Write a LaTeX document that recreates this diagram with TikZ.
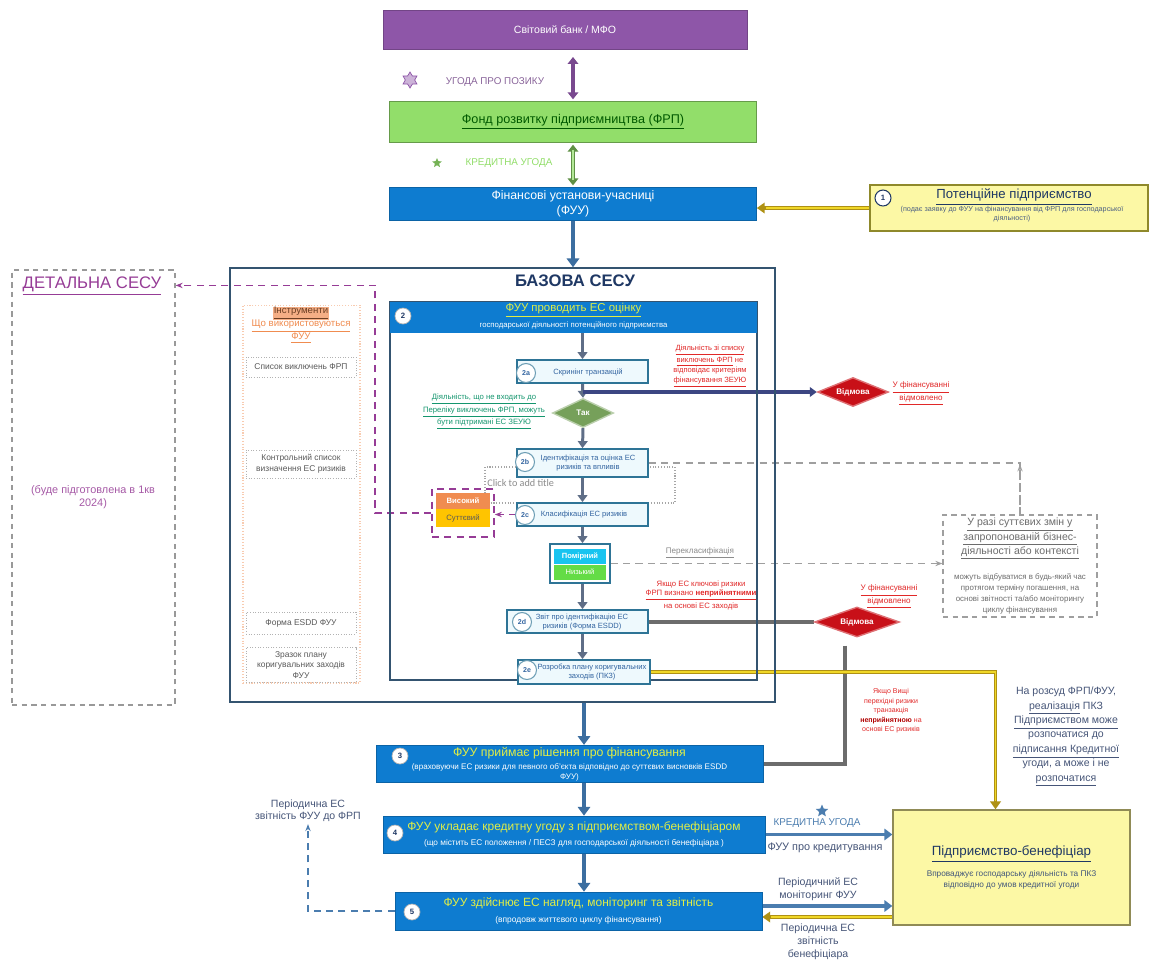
\documentclass[tikz,border=0pt]{standalone}
\usepackage{fontspec}
\setmainfont{Liberation Sans}
\newfontfamily\carlfont{Carlito}
\usetikzlibrary{shapes.geometric,arrows.meta,calc,backgrounds}
\newcommand{\myfs}[2]{\fontsize{#1}{#2}\selectfont}
\definecolor{cpurple}{RGB}{142,86,168}
\definecolor{cgreen}{RGB}{146,222,106}
\definecolor{cblue}{RGB}{14,124,208}
\definecolor{cnavy}{RGB}{31,56,100}
\definecolor{cframe}{RGB}{52,84,112}
\definecolor{cstepfill}{RGB}{238,249,253}
\definecolor{cstep}{RGB}{46,116,150}
\definecolor{cstxt}{RGB}{50,100,160}
\definecolor{cspine}{RGB}{95,110,135}
\definecolor{cred}{RGB}{200,16,24}
\definecolor{ctxtred}{RGB}{225,40,40}
\definecolor{cyel}{RGB}{252,248,165}
\definecolor{colive}{RGB}{175,145,20}
\definecolor{cgoldln}{RGB}{240,215,40}
\definecolor{corange}{RGB}{240,140,80}
\definecolor{cgold}{RGB}{255,196,0}
\definecolor{ccyan}{RGB}{24,196,240}
\definecolor{clgreen}{RGB}{100,220,70}
\definecolor{cdpurple}{RGB}{150,60,150}
\definecolor{csteel}{RGB}{75,125,175}
\definecolor{cfat}{RGB}{60,110,160}
\definecolor{ctitle}{RGB}{225,238,70}
\definecolor{cdgreen}{RGB}{118,160,90}
\definecolor{cgtxt}{RGB}{20,150,110}
\definecolor{cnavyarrow}{RGB}{60,70,130}
\definecolor{cslate}{RGB}{70,85,120}
\begin{document}
\begin{tikzpicture}[x=0.02cm,y=-0.02cm,
  every node/.style={inner sep=1pt},
  bluebox/.style={fill=cblue, draw=cblue!80!black, line width=0.4pt, text=white, align=center, inner sep=1pt},
  stepbox/.style={draw=cstep, fill=cstepfill, line width=1pt, inner sep=0pt},
  steptxt/.style={text=cstxt, font=\myfs{4.3}{5.2}, align=center, inner sep=0pt},
  numc/.style={circle, fill=white, draw=cstep!70, line width=0.6pt, inner sep=0pt, minimum size=0.38cm, text=cstxt, font=\myfs{4}{4}\bfseries},
  numw/.style={circle, fill=white, draw=gray!60, line width=0.4pt, inner sep=0pt, minimum size=0.32cm, text=cnavy, font=\myfs{4.4}{4.4}\bfseries},
  spine/.style={draw=cspine, line width=1.7pt, -{Triangle[length=4pt,width=5.5pt]}},
  fatblue/.style={draw=cfat, line width=2.4pt, -{Triangle[length=5pt,width=7pt]}},
  steelarr/.style={draw=csteel, line width=2.2pt, -{Triangle[length=4.5pt,width=6.5pt]}},
  goldarr/.style={draw=colive, line width=2pt, -{Triangle[length=4.5pt,width=6pt]}},
  goldin/.style={draw=cgoldln, line width=0.8pt},
  purpdash/.style={draw=cdpurple, dash pattern=on 4pt off 3pt, line width=0.9pt},
  graydash/.style={draw=gray!75, dash pattern=on 4pt off 3pt, line width=0.7pt},
  bluedash/.style={draw=csteel, dash pattern=on 4pt off 3pt, line width=0.8pt},
  instrbox/.style={draw=gray!60, densely dotted, line width=0.5pt, minimum width=2.2cm, align=center, text=gray!70!black, font=\myfs{4.8}{6}, inner sep=1pt},
  redtxt/.style={text=ctxtred, align=center},
  rejd/.style={diamond, aspect=2.4, fill=cred, draw=cred!60!white, line width=0.8pt, inner sep=0pt, text=white, font=\myfs{4.6}{5}\bfseries},
]
\useasboundingbox (0,0) rectangle (1154,968);
\begin{scope}[on background layer]
\fill[white] (0,0) rectangle (1154,968);
\end{scope}

% ---------- top chain ----------
\node[fill=cpurple, draw=cpurple!80!black, line width=0.5pt, minimum width=7.28cm, minimum height=0.78cm, text=white, font=\myfs{6}{7}] (wb) at (565,30) {Світовий банк / МФО};
\node[fill=cgreen, draw=cgreen!70!black, line width=0.5pt, minimum width=7.34cm, minimum height=0.82cm, text=green!35!black, font=\myfs{7.2}{8}] (frp) at (573,122) {\underline{Фонд розвитку підприємництва (ФРП)}};
\node[bluebox, minimum width=7.34cm, minimum height=0.66cm, font=\myfs{7}{8.5}] (fuu) at (573,204) {Фінансові установи-учасниці\\(ФУУ)};

\node[star, star points=6, star point ratio=1.7, draw=cpurple, fill=cpurple!45, line width=0.4pt, minimum size=0.32cm, inner sep=0pt] (st1) at (410,80) {};
\node[text=cpurple!65!gray, font=\myfs{5.6}{6}] (ugt) at (495,82) {УГОДА ПРО ПОЗИКУ};
\node[star, star points=5, star point ratio=2.2, fill=cgreen!80!black, minimum size=0.2cm, inner sep=0pt] (st2) at (437,163) {};
\node[text=cgreen, font=\myfs{5.6}{6}] (kut) at (509,163) {КРЕДИТНА УГОДА};

% potential enterprise
\node[fill=cyel, draw=olive!70!gray, line width=0.8pt, minimum width=5.56cm, minimum height=0.92cm] (pot) at (1009,208) {};
\node[numw, draw=cnavy, line width=0.6pt] (potn) at (883,198) {1};
\node[text=cnavy, font=\myfs{7.5}{8}] (pott) at (1014,197) {\underline{Потенційне підприємство}};
\node[text=cnavy!80, font=\myfs{4.1}{5}, align=center] (pots) at (1012,214) {(подає заявку до ФУУ на фінансування від ФРП для господарської\\діяльності)};

% ---------- detailed ----------
\node[draw=gray!80, dash pattern=on 3pt off 2.5pt, line width=0.7pt, minimum width=3.26cm, minimum height=8.7cm] (det) at (93.5,487.5) {};
\node[text=cdpurple, font=\myfs{9.5}{11}] (dett) at (92,286) {\underline{ДЕТАЛЬНА СЕСУ}};
\node[text=cdpurple!85, font=\myfs{6.2}{7.5}, align=center] (detn) at (93,497) {(буде підготовлена в 1кв\\2024)};

% ---------- base frame ----------
\node[draw=cframe, line width=0.9pt, minimum width=10.9cm, minimum height=8.68cm] (base) at (502.5,485) {};
\node[font=\myfs{9.5}{11}\bfseries, text=cnavy] (baset) at (575,281) {БАЗОВА СЕСУ};

% instruments column
\node[draw=corange!45, densely dotted, line width=0.6pt, minimum width=2.34cm, minimum height=7.56cm] (instr) at (301.5,494) {};
\node[align=center, text=corange, font=\myfs{5.5}{7.4}] (instrt) at (301,325) {{\setlength{\fboxsep}{0.4pt}\colorbox{corange!70}{\color{corange!45!black}\underline{Інструменти}}}\\\underline{Що використовуються}\\\underline{ФУУ}};
\node[instrbox, minimum height=0.4cm] (i1) at (301,367) {Список виключень ФРП};
\node[instrbox, minimum height=0.56cm] (i2) at (301,464) {Контрольний список\\визначення ЕС ризиків};
\node[instrbox, minimum height=0.44cm] (i3) at (301,623) {Форма ESDD ФУУ};
\node[instrbox, minimum height=0.7cm] (i4) at (301,665) {Зразок плану\\коригувальних заходів\\ФУУ};

% inner frame
\node[draw=cframe, line width=0.8pt, minimum width=7.34cm, minimum height=7.56cm] (inner) at (573.5,491) {};
\node[fill=cblue, minimum width=7.34cm, minimum height=0.62cm] (hdr) at (573.5,317.5) {};
\node[text=ctitle, font=\myfs{6.5}{7}] (hdrt) at (573.5,310) {\underline{ФУУ проводить ЕС оцінку}};
\node[text=white, font=\myfs{4.4}{5}] (hdrs) at (573.5,325) {господарської діяльності потенційного підприємства};
\node[numw] (hdrn) at (403,316) {2};

% click box
\node[draw=gray!70, densely dotted, line width=0.6pt, minimum width=3.8cm, minimum height=0.72cm] (click) at (580,485) {};
\node[text=gray!90, font=\carlfont\myfs{5.8}{6}, anchor=west, inner sep=0pt] (clickt) at (487,483) {Click to add title};

% steps
\node[stepbox, minimum width=2.62cm, minimum height=0.46cm] (s2a) at (582.5,371.5) {};
\node[steptxt] (s2at) at (588,372) {Скринінг транзакцій};
\node[numc] (s2an) at (526,373) {2a};

\node[diamond, aspect=2.1, fill=cdgreen, draw=cdgreen!50!white, line width=0.8pt, minimum width=1.22cm, minimum height=0.58cm, inner sep=0pt, text=white, font=\myfs{4.6}{5}\bfseries] (yes) at (583,413) {Так};
\node[align=center, text=cgtxt, font=\myfs{4.4}{5.4}] (yest) at (484,412) {\underline{Діяльність, що не входить до}\\\underline{Переліку виключень ФРП, можуть}\\\underline{бути підтримані ЕС ЗЕУЮ}};
\node[redtxt, font=\myfs{4.3}{5.6}] (exclt) at (710,366) {\underline{Діяльність зі списку}\\\underline{виключень ФРП} не\\відповідає критеріям\\\underline{фінансування ЗЕУЮ}};

\node[rejd, minimum width=1.42cm, minimum height=0.58cm] (rej1) at (853,392) {Відмова};
\node[redtxt, font=\myfs{4.6}{5.6}] (rej1t) at (921,394) {\underline{У фінансуванні}\\\underline{відмовлено}};

\node[stepbox, minimum width=2.62cm, minimum height=0.56cm] (s2b) at (582.5,463) {};
\node[steptxt] (s2bt) at (588,463) {Ідентифікація та оцінка ЕС\\ризиків та впливів};
\node[numc] (s2bn) at (525,462) {2b};

\node[stepbox, minimum width=2.62cm, minimum height=0.46cm] (s2c) at (582.5,514.5) {};
\node[steptxt] (s2ct) at (584,515) {Класифікація ЕС ризиків};
\node[numc] (s2cn) at (525,515) {2c};

\node[draw=cdpurple, dash pattern=on 4pt off 3pt, line width=0.9pt, minimum width=1.24cm, minimum height=0.96cm] (stackf) at (463,513) {};
\node[fill=corange, minimum width=1.08cm, minimum height=0.32cm, inner sep=0pt, text=white, font=\myfs{4.4}{5}\bfseries] (hi) at (463,501) {Високий};
\node[fill=cgold, minimum width=1.08cm, minimum height=0.36cm, inner sep=0pt, text=black!65, font=\myfs{4.4}{5}] (sig) at (463,518) {Суттєвий};

\node[draw=cstep, fill=white, line width=1pt, minimum width=1.2cm, minimum height=0.78cm] (prio) at (580,563.5) {};
\node[fill=ccyan, minimum width=1.04cm, minimum height=0.3cm, inner sep=0pt, text=white, font=\myfs{4.3}{5}\bfseries] (mod) at (580,556) {Помірний};
\node[fill=clgreen, minimum width=1.04cm, minimum height=0.3cm, inner sep=0pt, text=white, font=\myfs{4.3}{5}] (low) at (580,572) {Низький};
\node[text=gray!90, font=\myfs{4.6}{5}] (reclt) at (700,553) {\underline{Перекласифікація}};
\node[redtxt, font=\myfs{4.4}{5.4}] (keyt) at (701,595) {Якщо ЕС ключові ризики\\\underline{ФРП визнано \textbf{неприйнятними}}\\на основі ЕС заходів};

\node[stepbox, minimum width=2.82cm, minimum height=0.46cm] (s2d) at (577.5,621.5) {};
\node[steptxt] (s2dt) at (582,622) {Звіт про ідентифікацію ЕС\\ризиків (Форма ESDD)};
\node[numc] (s2dn) at (522,622) {2d};

\node[rejd, minimum width=1.7cm, minimum height=0.6cm] (rej2) at (857,622) {Відмова};
\node[redtxt, font=\myfs{4.6}{5.6}] (rej2t) at (889,597) {\underline{У фінансуванні}\\\underline{відмовлено}};

\node[stepbox, minimum width=2.64cm, minimum height=0.48cm] (s2e) at (584,672) {};
\node[steptxt] (s2et) at (592,672) {Розробка плану коригувальних\\заходів (ПКЗ)};
\node[numc] (s2en) at (527,670) {2e};

% right dashed note
\node[draw=gray!75, dash pattern=on 3pt off 2.5pt, line width=0.7pt, minimum width=3.08cm, minimum height=2.04cm] (rbox) at (1020,566) {};
\node[text=gray!85!black, font=\myfs{6}{8}, align=center] (rboxt) at (1020,539) {\underline{У разі суттєвих змін у}\\\underline{запропонованій бізнес-}\\\underline{діяльності або контексті}};
\node[text=gray!85!black, font=\myfs{4.5}{6.2}, align=center] (rboxs) at (1020,594) {можуть відбуватися в будь-який час\\протягом терміну погашення, на\\основі звітності та/або моніторингу\\циклу фінансування};

\node[redtxt, font=\myfs{4}{5.4}] (hight) at (891,711) {Якщо Вищі\\перехідні ризики\\транзакція\\\textbf{\color{red!70!black}неприйнятною} на\\основі ЕС ризиків};

\node[text=cslate, font=\myfs{6}{8.2}, align=center] (discr) at (1066,737) {На розсуд ФРП/ФУУ,\\\underline{реалізація} ПКЗ\\\underline{Підприємством може}\\розпочатися до\\\underline{підписання Кредитної}\\угоди, а може і не\\\underline{розпочатися}};

% ---------- bottom chain ----------
\node[bluebox, minimum width=7.74cm, minimum height=0.72cm, font=\myfs{4.6}{5.6}] (b3) at (569.5,764) {{\myfs{7}{7.6}\color{ctitle}ФУУ приймає рішення про фінансування}\\[2pt](враховуючи ЕС ризики для певного об’єкта відповідно до суттєвих висновків ESDD\\ФУУ)};
\node[numw] (b3n) at (400,756) {3};
\node[bluebox, minimum width=7.64cm, minimum height=0.74cm, font=\myfs{4.7}{6}] (b4) at (574,834.5) {{\myfs{6.8}{9}\color{ctitle}ФУУ укладає кредитну угоду з підприємством-бенефіціаром}\\[3pt](що містить ЕС положення / ПЕСЗ для господарської діяльності бенефіціара )};
\node[numw] (b4n) at (395,833) {4};
\node[bluebox, minimum width=7.34cm, minimum height=0.76cm, font=\myfs{4.8}{6}] (b5) at (578.5,911) {{\myfs{6.8}{9}\color{ctitle}ФУУ здійснює ЕС нагляд, моніторинг та звітність}\\[3pt](впродовж життєвого циклу фінансування)};
\node[numw] (b5n) at (412,912) {5};

\node[fill=cyel, draw=gray!60!olive, line width=0.8pt, minimum width=4.74cm, minimum height=2.3cm, align=center, font=\myfs{4.7}{5.8}, text=cnavy!85] (ben) at (1011.5,867.5) {{\myfs{7.6}{10}\color{cnavy}\underline{Підприємство-бенефіціар}}\\[4pt]Впроваджує господарську діяльність та ПКЗ\\відповідно до умов кредитної угоди};

\node[star, star points=5, star point ratio=2.2, fill=csteel, minimum size=0.26cm, inner sep=0pt] (st3) at (822,811) {};
\node[text=csteel, font=\myfs{5.6}{6}] (kut2) at (817,823) {КРЕДИТНА УГОДА};
\node[text=cslate, font=\myfs{6.2}{7}] (fpk) at (825,848) {ФУУ про кредитування};
\node[text=cslate, font=\myfs{6}{7.4}, align=center] (pmon) at (818,889) {Періодичний ЕС\\моніторинг ФУУ};
\node[text=cslate, font=\myfs{6}{7.4}, align=center] (prep) at (818,942) {Періодична ЕС\\звітність\\бенефіціара};
\node[text=cslate, font=\myfs{6}{7}, align=center] (rep) at (308,811) {Періодична ЕС\\звітність ФУУ до ФРП};

% ---------- connectors ----------
\begin{scope}[on background layer]
\draw[draw=cpurple!85!black, line width=2.2pt, {Triangle[length=4pt,width=6pt]}-{Triangle[length=4pt,width=6pt]}, shorten <=4pt, shorten >=1pt] (frp.north |- wb.south) -- (frp.north);
\draw[draw=cgreen!65!black, line width=2.4pt, {Triangle[length=4pt,width=6pt]}-{Triangle[length=4pt,width=6pt]}, shorten <=1pt, shorten >=1pt] (frp.south) -- (frp.south |- fuu.north);
\draw[draw=cgreen!70, line width=0.9pt, shorten <=4pt, shorten >=4pt] (frp.south) -- (frp.south |- fuu.north);
\draw[fatblue] (fuu.south) -- (fuu.south |- base.north);
\draw[goldarr] (pot.west) -- (pot.west -| fuu.east);
\draw[goldin, shorten >=5pt] (pot.west) -- (pot.west -| fuu.east);

\draw[spine] (hdr.south -| s2a.north) -- (s2a.north);
\draw[spine] (s2a.south) -- (yes.north);
\draw[spine] (yes.south) -- (s2b.north);
\draw[spine] (s2b.south) -- (s2c.north);
\draw[spine] (s2c.south) -- (prio.north -| s2c.south);
\draw[spine] (prio.south -| s2c.south) -- (s2d.north -| s2c.south);
\draw[spine] (s2d.south -| s2c.south) -- (s2e.north -| s2c.south);
\draw[draw=cnavyarrow, line width=2pt, -{Triangle[length=4pt,width=5.5pt]}] (s2a.south |- rej1.west) -- (rej1.west);

\draw[draw=gray!85!black, line width=1.8pt] (s2d.east |- rej2.west) -- (rej2.west);
\draw[draw=gray!85!black, line width=1.8pt] ($(rej2.south)+(-12,8)$) |- (b3.east);

\draw[goldarr] (s2e.east) -| ($(ben.north)+(-16,0)$);
\draw[goldin, shorten >=5pt] (s2e.east) -| ($(ben.north)+(-16,0)$);

\draw[purpdash, -{Stealth[length=4pt]}] (stackf.west) -- ++(-56,0) |- ($(det.north east)+(0,16)$);
\draw[purpdash, -{Stealth[length=4pt]}] (s2c.west) -- (s2c.west -| stackf.east);

\draw[graydash, -{Stealth[length=4pt]}] (prio.east) -- (prio.east -| rbox.west);
\draw[graydash] (s2b.east) -| (rbox.north);
\draw[graydash, -{Stealth[length=4pt]}] (rbox.north) -- ++(0,-50);

\draw[fatblue] (s2e.south |- base.south) -- (s2e.south |- b3.north);
\draw[fatblue] (s2e.south |- b3.south) -- (s2e.south |- b4.north);
\draw[fatblue] (s2e.south |- b4.south) -- (s2e.south |- b5.north);

\draw[steelarr] (b4.east) -- (b4.east -| ben.west);
\coordinate (m1) at ($(b5.east)+(0,-5)$);
\coordinate (m2) at ($(b5.east)+(0,6)$);
\draw[steelarr] (m1) -- (m1 -| ben.west);
\draw[goldarr] (m2 -| ben.west) -- (m2);
\draw[goldin, shorten >=5pt] (m2 -| ben.west) -- (m2);

\draw[bluedash, -{Stealth[length=4pt]}] (b5.west) -| (rep.south);
\end{scope}
\end{tikzpicture}
\end{document}
